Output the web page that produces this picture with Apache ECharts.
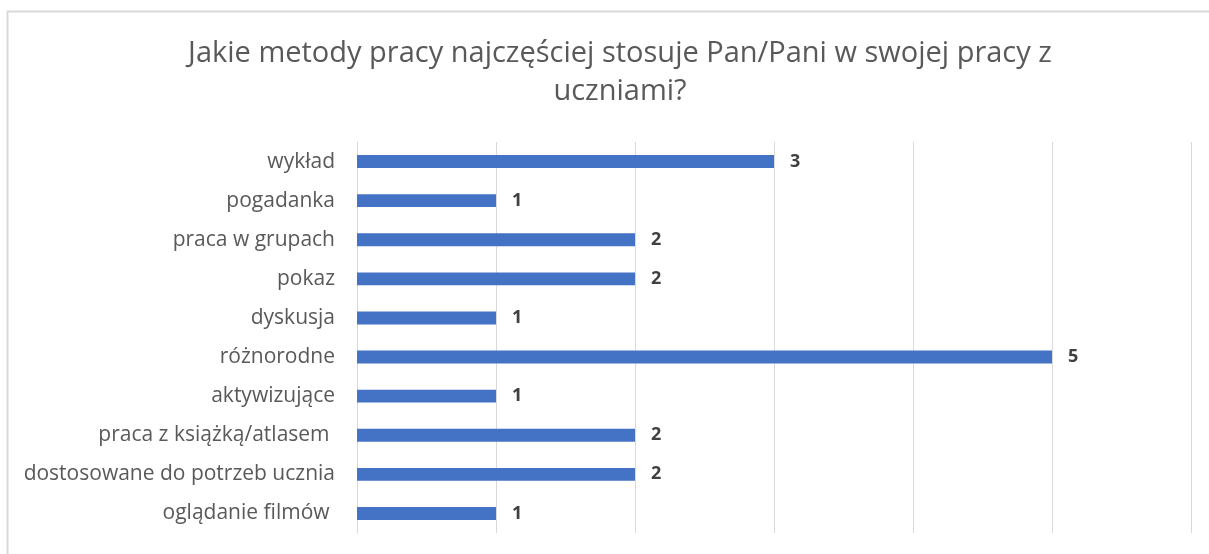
<!DOCTYPE html>
<html>
<head>
<meta charset="utf-8">
<script src="https://cdn.jsdelivr.net/npm/echarts@6/dist/echarts.min.js"></script>
<style>
  html, body { margin: 0; padding: 0; background: #fff; }
  #chart { width: 1209px; height: 554px; }
</style>
</head>
<body>
<div id="chart"></div>
<script>
// dane z wykresu (od góry do dołu)
const categories = [
  'wykład',
  'pogadanka',
  'praca w grupach',
  'pokaz',
  'dyskusja',
  'różnorodne',
  'aktywizujące',
  'praca z książką/atlasem ',
  'dostosowane do potrzeb ucznia',
  'oglądanie filmów '
];
const values = [3, 1, 2, 2, 1, 5, 1, 2, 2, 1];
const titleText = 'Jakie metody pracy najczęściej stosuje Pan/Pani w swojej pracy z\nuczniami?';

const chart = echarts.init(document.getElementById('chart'));

const option = {
  animation: false,
  backgroundColor: '#fff',
  textStyle: { fontFamily: 'Open Sans' },
  graphic: [
    {
      type: 'rect',
      shape: { x: 7.5, y: 11.5, width: 1300, height: 700 },
      style: { fill: 'none', stroke: '#d9d9d9', lineWidth: 2 },
      silent: true
    }
  ],
  title: {
    text: titleText,
    left: 615,
    top: 30,
    textAlign: 'center',
    textStyle: {
      color: '#595959',
      fontSize: 29,
      fontWeight: 'normal',
      lineHeight: 38
    }
  },
  grid: {
    left: 357,
    right: 18,
    top: 142,
    bottom: 21,
    containLabel: false
  },
  xAxis: {
    type: 'value',
    min: 0,
    max: 6,
    interval: 1,
    axisLabel: { show: false },
    axisLine: { show: false },
    axisTick: { show: false },
    splitLine: { lineStyle: { color: '#d9d9d9', width: 1 } }
  },
  yAxis: {
    type: 'category',
    data: categories,
    inverse: true,
    axisLine: { show: true, lineStyle: { color: '#d9d9d9' } },
    axisTick: { show: false },
    axisLabel: { color: '#595959', fontSize: 21, margin: 22 }
  },
  series: [
    {
      type: 'bar',
      data: values,
      barWidth: '33%',
      itemStyle: { color: '#4472c4' },
      label: {
        show: true,
        position: 'right',
        distance: 16,
        color: '#404040',
        fontSize: 18,
        fontWeight: 'bold'
      }
    }
  ]
};

chart.setOption(option);
</script>
</body>
</html>
